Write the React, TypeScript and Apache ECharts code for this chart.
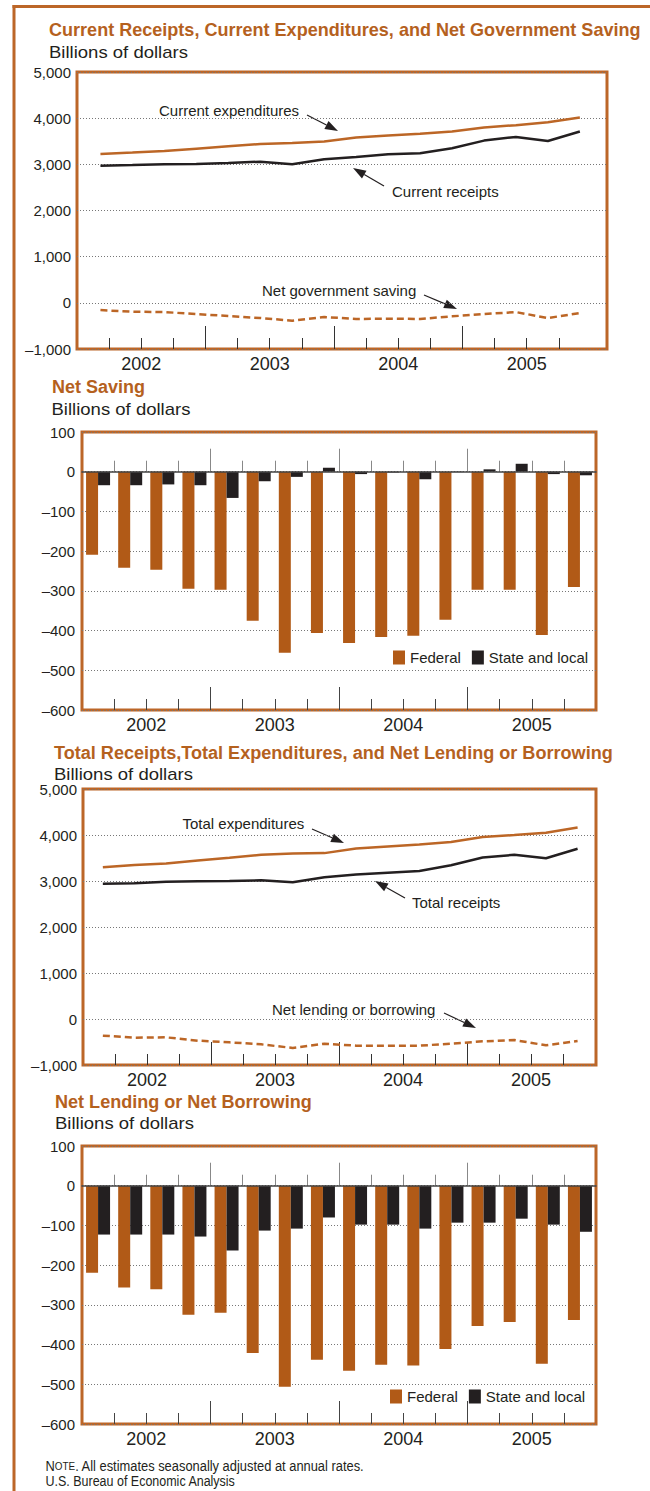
import React, { useEffect, useRef } from 'react';
import * as echarts from 'echarts';

// ---------- data ----------
const quarters = [
  '2002 Q1', '2002 Q2', '2002 Q3', '2002 Q4',
  '2003 Q1', '2003 Q2', '2003 Q3', '2003 Q4',
  '2004 Q1', '2004 Q2', '2004 Q3', '2004 Q4',
  '2005 Q1', '2005 Q2', '2005 Q3', '2005 Q4',
];
const years = ['2002', '2003', '2004', '2005'];

const currentExpenditures = [3225, 3254, 3290, 3340, 3391, 3442, 3464, 3493, 3580, 3623, 3660, 3710, 3797, 3848, 3913, 4014];
const currentReceipts = [2971, 2985, 3000, 3007, 3029, 3058, 3000, 3109, 3159, 3217, 3239, 3348, 3514, 3594, 3507, 3710];
const netGovernmentSaving = [-157, -193, -200, -243, -286, -329, -386, -307, -350, -343, -350, -293, -243, -200, -329, -221];

const netSavingFederal = [-209, -242, -247, -295, -297, -375, -456, -406, -431, -416, -413, -373, -297, -297, -411, -290];
const netSavingStateLocal = [-34, -34, -32, -34, -66, -24, -13, 10, -6, -2, -19, -1, 6, 20, -6, -9];

const totalExpenditures = [3299, 3350, 3380, 3445, 3504, 3569, 3599, 3606, 3708, 3752, 3796, 3847, 3956, 4000, 4051, 4161];
const totalReceipts = [2942, 2949, 2985, 2993, 3000, 3015, 2971, 3080, 3139, 3182, 3219, 3343, 3511, 3569, 3496, 3701];
const netLendingBorrowing = [-362, -406, -399, -471, -507, -551, -630, -536, -580, -580, -580, -536, -486, -457, -572, -478];

const netLendingFederal = [-219, -256, -261, -325, -320, -421, -506, -438, -466, -451, -453, -411, -353, -343, -448, -338];
const netLendingStateLocal = [-123, -123, -123, -128, -163, -113, -108, -80, -98, -98, -108, -93, -93, -83, -98, -116];

// ---------- styles ----------
const FONT = '"Liberation Sans", Arial, Helvetica, sans-serif';
const TEXT = '#231F20';
const FRAME = '#BC6628';
const TITLE = '#B5611E';
const LINE_ORANGE = '#BC6626';
const BAR_ORANGE = '#B15A17';
const BLACK = '#231F20';

const shortTicks: number[] = [];
const longTicks: number[] = [];
for (let i = 1; i < quarters.length; i++) {
  if (i % 4 === 0) longTicks.push(i); else shortTicks.push(i);
}
const yearPositions = years.map((_, i) => i * 4 + 2);
const yearFormatter = (v: number) => {
  const i = Math.round((v - 2) / 4);
  return Math.abs((v - 2) / 4 - i) < 1e-6 && years[i] ? years[i] : '';
};
const fmtY = (v: number) => (v < 0 ? '\u2013' : '') + Math.abs(v).toLocaleString('en-US');

function textWidth(text: string, font: string): number {
  const ctx = document.createElement('canvas').getContext('2d');
  if (!ctx) return 0;
  ctx.font = font;
  return ctx.measureText(text).width;
}

function fittedText(text: string, x: number, y: number, size: number, weight: string, color: string, target: number) {
  const w = textWidth(text, `${weight} ${size}px ${FONT}`);
  const sx = w > 0 ? target / w : 1;
  return {
    type: 'text', x, y, scaleX: sx, silent: true,
    style: { text, x: 0, y: 0, fill: color, fontSize: size, fontWeight: weight, fontFamily: FONT, align: 'left', verticalAlign: 'middle' },
  };
}

function label(text: string, x: number, y: number) {
  return {
    type: 'text', x, y, silent: true,
    style: { text, x: 0, y: 0, fill: TEXT, fontSize: 15, fontFamily: FONT, align: 'left', verticalAlign: 'middle' },
  };
}

function arrow(x1: number, y1: number, x2: number, y2: number) {
  const dx = x2 - x1, dy = y2 - y1;
  const len = Math.hypot(dx, dy);
  const ux = dx / len, uy = dy / len;
  const hl = 13, hw = 4.5;
  const bx = x2 - ux * hl, by = y2 - uy * hl;
  return [
    { type: 'line', silent: true, shape: { x1, y1, x2: bx, y2: by }, style: { stroke: TEXT, lineWidth: 1.2 } },
    { type: 'polygon', silent: true, shape: { points: [[x2, y2], [bx - uy * hw, by + ux * hw], [bx + uy * hw, by - ux * hw]] }, style: { fill: TEXT } },
  ];
}

function buildOption() {
  const grids = [
    { left: 77, top: 72, width: 530, height: 277 },
    { left: 82, top: 432, width: 514, height: 278 },
    { left: 83, top: 789, width: 513, height: 276 },
    { left: 82, top: 1146, width: 514, height: 278 },
  ];
  const xAxis: any[] = [];
  const yAxis: any[] = [];
  const series: any[] = [];

  const tickAxis = (gridIndex: number, max: number, values: number[], length: number, color: string, onZeroY: number | null, withLabels: boolean) => {
    xAxis.push({
      type: 'value', gridIndex, position: 'bottom', min: 0, max,
      axisLine: onZeroY === null ? { show: false, onZero: false } : { show: false, onZero: true, onZeroAxisIndex: onZeroY },
      splitLine: { show: false },
      axisTick: { show: true, inside: true, length, customValues: values, lineStyle: { color, width: 1 } },
      axisLabel: withLabels
        ? { show: true, customValues: yearPositions, formatter: yearFormatter, fontSize: 18, color: TEXT, fontFamily: FONT, margin: 6 }
        : { show: false },
    });
    return xAxis.length - 1;
  };

  const linePanel = (g: number, max: number, x0: number, step: number, lines: { data: number[]; color: string; dashed: boolean; name: string }[]) => {
    const xi = tickAxis(g, max, shortTicks, 11, '#333', null, true);
    tickAxis(g, max, longTicks, 23, '#333', null, false);
    yAxis.push({
      type: 'value', gridIndex: g, min: -1000, max: 5000, interval: 1000,
      axisLine: { show: false, onZero: false }, axisTick: { show: false },
      axisLabel: { formatter: fmtY, fontSize: 15, color: TEXT, fontFamily: FONT, margin: 6 },
      splitLine: { show: true, lineStyle: { type: [1, 2], color: '#777', width: 1 } },
    });
    const yi = yAxis.length - 1;
    lines.forEach((l) => {
      series.push({
        type: 'line', name: l.name, xAxisIndex: xi, yAxisIndex: yi, symbol: 'none', z: 3,
        data: l.data.map((v, k) => [x0 + k * step, v]),
        lineStyle: { color: l.color, width: 2.5, type: l.dashed ? [7, 4] : 'solid' },
      });
    });
  };

  const barPanel = (g: number, fed: number[], sl: number[]) => {
    yAxis.push({
      type: 'value', gridIndex: g, min: -600, max: 100, interval: 100,
      axisLine: { show: false, onZero: false }, axisTick: { show: false },
      axisLabel: { formatter: fmtY, fontSize: 15, color: TEXT, fontFamily: FONT, margin: 7 },
      splitLine: { show: true, lineStyle: { type: [1, 2], color: '#777', width: 1 } },
    });
    const yi = yAxis.length - 1;
    xAxis.push({
      type: 'category', gridIndex: g, data: quarters, boundaryGap: true, position: 'bottom',
      axisLine: { show: true, onZero: true, onZeroAxisIndex: yi, lineStyle: { color: '#444', width: 1.5 } },
      axisTick: { show: false }, axisLabel: { show: false }, splitLine: { show: false }, z: 4,
    });
    const xc = xAxis.length - 1;
    tickAxis(g, 16, shortTicks, 11, '#888', yi, false);
    tickAxis(g, 16, longTicks, 23, '#888', yi, false);
    tickAxis(g, 16, shortTicks, 11, '#444', null, true);
    tickAxis(g, 16, longTicks, 23, '#444', null, false);
    series.push({
      type: 'bar', name: 'Federal', xAxisIndex: xc, yAxisIndex: yi, data: fed,
      barWidth: 12, barGap: '0%', itemStyle: { color: BAR_ORANGE },
    });
    series.push({
      type: 'bar', name: 'State and local', xAxisIndex: xc, yAxisIndex: yi, data: sl,
      barWidth: 12, barGap: '0%', itemStyle: { color: BLACK },
    });
  };

  linePanel(0, 16.5, 0.73, 0.995, [
    { name: 'Current expenditures', data: currentExpenditures, color: LINE_ORANGE, dashed: false },
    { name: 'Current receipts', data: currentReceipts, color: BLACK, dashed: false },
    { name: 'Net government saving', data: netGovernmentSaving, color: LINE_ORANGE, dashed: true },
  ]);
  barPanel(1, netSavingFederal, netSavingStateLocal);
  linePanel(2, 16.03, 0.62, 0.989, [
    { name: 'Total expenditures', data: totalExpenditures, color: LINE_ORANGE, dashed: false },
    { name: 'Total receipts', data: totalReceipts, color: BLACK, dashed: false },
    { name: 'Net lending or borrowing', data: netLendingBorrowing, color: LINE_ORANGE, dashed: true },
  ]);
  barPanel(3, netLendingFederal, netLendingStateLocal);

  const legendBase = {
    data: ['Federal', 'State and local'], orient: 'horizontal', icon: 'rect',
    itemWidth: 12, itemHeight: 14, itemGap: 11, padding: 0,
    textStyle: { fontSize: 15, color: TEXT, fontFamily: FONT },
  };

  const noteW1 = textWidth('N', `normal 15px ${FONT}`) + textWidth('OTE', `normal 11.5px ${FONT}`) +
    textWidth('. All estimates seasonally adjusted at annual rates.', `normal 15px ${FONT}`);
  const noteW2 = textWidth('U.S. Bureau of Economic Analysis', `normal 15px ${FONT}`);

  const graphic: any[] = [
    { type: 'line', silent: true, shape: { x1: 12.5, y1: 6.5, x2: 650, y2: 6.5 }, style: { stroke: FRAME, lineWidth: 3 } },
    { type: 'line', silent: true, shape: { x1: 14, y1: 5, x2: 14, y2: 1491 }, style: { stroke: FRAME, lineWidth: 3 } },
    fittedText('Current Receipts, Current Expenditures, and Net Government Saving', 49, 29, 18.5, 'bold', TITLE, 592),
    fittedText('Billions of dollars', 49, 52, 16, 'normal', TEXT, 139),
    fittedText('Net Saving', 52, 386, 18.5, 'bold', TITLE, 93),
    fittedText('Billions of dollars', 51.5, 409, 16, 'normal', TEXT, 139),
    fittedText('Total Receipts,Total Expenditures, and Net Lending or Borrowing', 54, 752, 18.5, 'bold', TITLE, 559),
    fittedText('Billions of dollars', 54, 774, 16, 'normal', TEXT, 139),
    fittedText('Net Lending or Net Borrowing', 55, 1101, 18.5, 'bold', TITLE, 257),
    fittedText('Billions of dollars', 55, 1123.5, 16, 'normal', TEXT, 139),
    label('Current expenditures', 159, 110),
    ...arrow(307, 115, 338, 131),
    label('Current receipts', 392, 191.5),
    ...arrow(384, 186, 353, 168),
    label('Net government saving', 262, 290),
    ...arrow(424, 295, 457, 309),
    label('Total expenditures', 182.5, 823),
    ...arrow(312, 829, 344, 843),
    label('Total receipts', 412, 902.5),
    ...arrow(405, 898, 375, 881),
    label('Net lending or borrowing', 272, 1009),
    ...arrow(444, 1013, 476, 1028),
    {
      type: 'text', x: 45.5, y: 1465.5, scaleX: noteW1 > 0 ? 319.5 / noteW1 : 1, silent: true,
      style: {
        text: '{a|N}{b|OTE}{a|. All estimates seasonally adjusted at annual rates.}',
        x: 0, y: 0, fill: TEXT, fontFamily: FONT, fontSize: 15, align: 'left', verticalAlign: 'middle',
        rich: { a: { fontSize: 15, fontFamily: FONT, fill: TEXT }, b: { fontSize: 11.5, fontFamily: FONT, fill: TEXT } },
      },
    },
    {
      type: 'text', x: 45.5, y: 1481.5, scaleX: noteW2 > 0 ? 197 / noteW2 : 1, silent: true,
      style: { text: 'U.S. Bureau of Economic Analysis', x: 0, y: 0, fill: TEXT, fontFamily: FONT, fontSize: 14.5, align: 'left', verticalAlign: 'middle' },
    },
  ];

  return {
    animation: false,
    backgroundColor: '#ffffff',
    textStyle: { fontFamily: FONT },
    grid: grids.map((g) => ({ ...g, show: true, borderColor: FRAME, borderWidth: 3, backgroundColor: 'transparent', containLabel: false, outerBoundsMode: 'none' })),
    xAxis,
    yAxis,
    series,
    legend: [
      { ...legendBase, left: 393, top: 650 },
      { ...legendBase, left: 390, top: 1389 },
    ],
    graphic,
  };
}

export default function App() {
  const ref = useRef<HTMLDivElement>(null);
  useEffect(() => {
    if (!ref.current) return;
    const chart = echarts.init(ref.current, undefined, { renderer: 'svg' });
    chart.setOption(buildOption() as any);
    return () => chart.dispose();
  }, []);
  return <div ref={ref} style={{ position: 'absolute', left: 0, top: 0, width: 650, height: 1491 }} />;
}
